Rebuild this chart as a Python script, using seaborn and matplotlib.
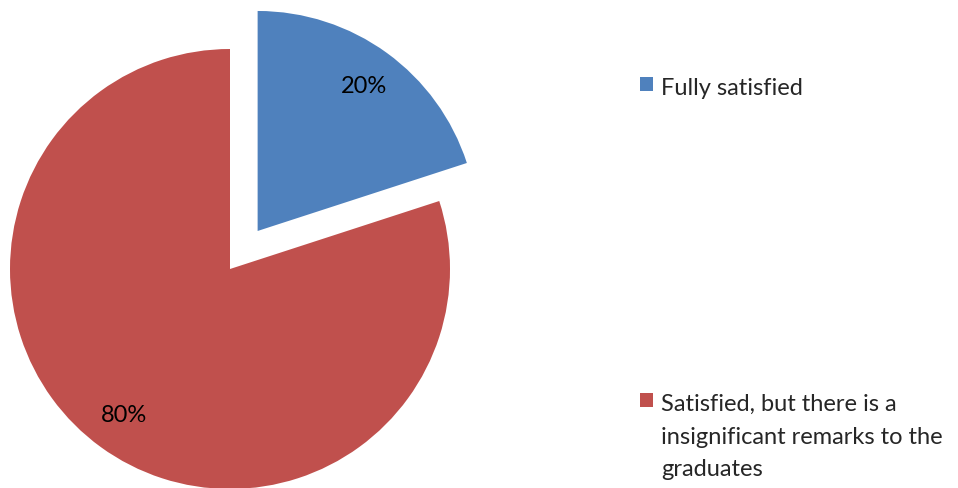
import matplotlib.pyplot as plt
import seaborn as sns

# Data
labels = ["Fully satisfied", "Satisfied, but there is a\ninsignificant remarks to the\ngraduates"]
shares = [20, 80]
colors = ["#4F81BD", "#C0504D"]

sns.set_style("white")
plt.rcParams["font.family"] = ["Lato", "DejaVu Sans"]

fig = plt.figure(figsize=(9.58, 4.89), dpi=100)
ax = fig.add_axes([0, 0, 1, 1])

# explode is in data units here (axes are in pixels)
wedges, texts, autotexts = ax.pie(
    shares, colors=colors, startangle=90, counterclock=False,
    explode=[47, 0], center=(230, 219), radius=220,
    autopct="%1.0f%%", pctdistance=0.82,
    wedgeprops={"linewidth": 0},
    textprops={"fontsize": 17, "color": "black"},
)
ax.set_xlim(0, 958)
ax.set_ylim(0, 489)
ax.set_aspect("equal")
ax.axis("off")

leg = ax.legend(wedges, labels, loc="upper left", bbox_to_anchor=(640 / 958, 1 - 78 / 489),
                bbox_transform=fig.transFigure, frameon=False, fontsize=17,
                handlelength=0.55, handleheight=0.55, handletextpad=0.35,
                labelspacing=12.5, borderaxespad=0, borderpad=0)
for t in leg.get_texts():
    t.set_linespacing(1.68)
# put the square next to the first line of a wrapped label
for col in leg._legend_handle_box.get_children():
    for row in col.get_children():
        row.align = "top"

plt.savefig("out.png", dpi=100)
